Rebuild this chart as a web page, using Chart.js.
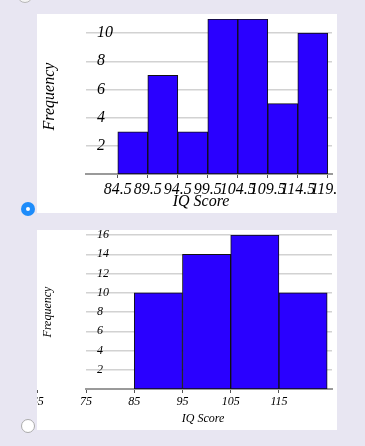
<!DOCTYPE html>
<html>
<head>
<meta charset="utf-8">
<script src="https://cdn.jsdelivr.net/npm/chart.js@4/dist/chart.umd.min.js"></script>
<style>
  body { margin: 0; width: 365px; height: 446px; background: #e8e6f2; position: relative; overflow: hidden; }
  .card { position: absolute; left: 37px; width: 300px; background: #fff; overflow: hidden; }
  #card1 { top: 14px; height: 199px; }
  #card2 { top: 230px; height: 200px; }
  .radio { position: absolute; border-radius: 50%; box-sizing: border-box; }
  #radioTop { left: 17px; top: -13px; width: 16px; height: 16px; border: 1px solid #b8b8b8; background: #f4f4f4; }
  #radio1 { left: 21px; top: 202px; width: 14px; height: 14px; background: #1e8cfa; }
  #radio1::after { content: ''; position: absolute; left: 5px; top: 5px; width: 4px; height: 4px; border-radius: 50%; background: #fff; }
  #radio2 { left: 21px; top: 419px; width: 14px; height: 14px; border: 1.5px solid #aaa; background: #fff; }
</style>
</head>
<body>
<div class="radio" id="radioTop"></div>
<div class="card" id="card1"><canvas id="chart1" width="300" height="199"></canvas></div>
<div class="radio" id="radio1"></div>
<div class="card" id="card2"><canvas id="chart2" width="300" height="200"></canvas></div>
<div class="radio" id="radio2"></div>

<script>
// first histogram (bins of width 5, starting at 84.5)
let edges1 = [84.5, 89.5, 94.5, 99.5, 104.5, 109.5, 114.5, 119.5];
let freq1 = [3, 7, 3, 11, 11, 5, 10];
let yTicks1 = [2, 4, 6, 8, 10];

// second histogram (bins of width 10)
let edges2 = [85, 95, 105, 115, 125];
let freq2 = [10, 14, 16, 10];
let xTicks2 = [65, 75, 85, 95, 105, 115];
let yTicks2 = [2, 4, 6, 8, 10, 12, 14, 16];

let serif = "'Liberation Serif', 'DejaVu Serif', serif";

function makeHist(id, edges, freq, xTicks, yTicks, o) {
    // bars sit at the middle of each bin on a linear x axis
    let points = freq.map((f, i) => ({ x: (edges[i] + edges[i + 1]) / 2, y: f }));
    let tickFont = { family: serif, style: 'italic', size: o.fontSize };

    return new Chart(document.getElementById(id).getContext('2d'), {
        type: 'bar',
        data: {
            datasets: [{
                data: points,
                backgroundColor: '#2a00ff',
                borderColor: '#111',
                borderWidth: 1,
                borderSkipped: false,
                barPercentage: 1,
                categoryPercentage: 1
            }]
        },
        options: {
            responsive: false,
            animation: false,
            devicePixelRatio: 1,
            layout: { padding: { top: 5, right: 5, left: 0, bottom: 0 } },
            plugins: { legend: { display: false }, tooltip: { enabled: false } },
            scales: {
                x: {
                    type: 'linear',
                    min: o.xMin,
                    max: o.xMax,
                    offset: false,
                    grid: { offset: false, drawOnChartArea: false, tickLength: 4, color: '#555', lineWidth: 1 },
                    border: { display: true, color: '#9a9a9a', width: 2 },
                    afterBuildTicks: s => { s.ticks = xTicks.map(v => ({ value: v })); },
                    afterFit: s => { s.height = o.xHeight; s.paddingLeft = 0; s.paddingRight = 0; },
                    ticks: {
                        autoSkip: false, maxRotation: 0, minRotation: 0, padding: 2,
                        color: '#000', font: tickFont,
                        callback: v => String(v)
                    },
                    title: {
                        display: true, text: 'IQ Score\u2003', color: '#000',
                        font: tickFont, padding: { top: 0, bottom: o.xTitlePad }
                    }
                },
                y: {
                    min: 0,
                    max: o.yMax,
                    afterBuildTicks: s => { s.ticks = yTicks.map(v => ({ value: v })); },
                    afterFit: s => { s.width = 49; s.paddingTop = 0; s.paddingBottom = 0; },
                    grid: { color: '#d2d2d2', lineWidth: 1.5, drawTicks: false },
                    border: { display: false },
                    ticks: { mirror: true, padding: 11, color: '#000', font: tickFont },
                    title: {
                        display: true, text: 'Frequency', color: '#000',
                        font: tickFont, padding: { top: o.yTitlePad, bottom: 0 }
                    }
                }
            }
        }
    });
}

makeHist('chart1', edges1, freq1, edges1, yTicks1,
    { fontSize: 16, xMin: 79.2, xMax: 120.2, yMax: 11, xHeight: 39, xTitlePad: 2, yTitlePad: 3 });

makeHist('chart2', edges2, freq2, xTicks2, yTicks2,
    { fontSize: 12, xMin: 75, xMax: 126, yMax: 16, xHeight: 41, xTitlePad: 4, yTitlePad: 4 });
</script>
</body>
</html>
